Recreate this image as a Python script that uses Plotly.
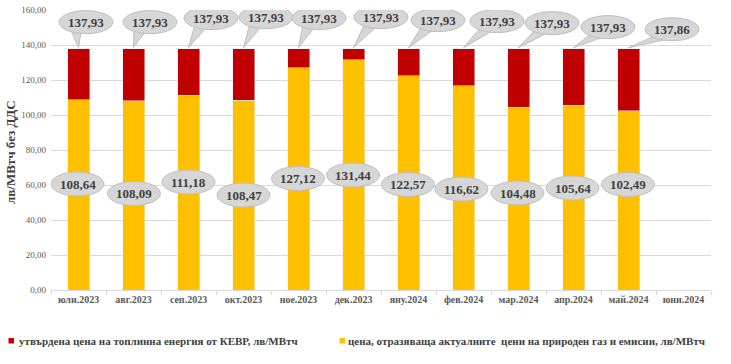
import plotly.graph_objects as go

months = ["юли.2023", "авг.2023", "сеп.2023", "окт.2023", "ное.2023", "дек.2023",
          "яну.2024", "фев.2024", "мар.2024", "апр.2024", "май.2024", "юни.2024"]
gas_price = [108.64, 108.09, 111.18, 108.47, 127.12, 131.44,
             122.57, 116.62, 104.48, 105.64, 102.49, None]
kevr_extra = [29.29, 29.84, 26.75, 29.46, 10.81, 6.49,
              15.36, 21.31, 33.45, 32.29, 35.37, None]
kevr_total = [137.93, 137.93, 137.93, 137.93, 137.93, 137.93,
              137.93, 137.93, 137.93, 137.93, 137.86, None]

name_kevr = "утвърдена цена на топлинна енергия от КЕВР, лв/МВтч"
name_gas = "цена, отразяваща актуалните  цени на природен газ и емисии, лв/МВтч"
y_title = "лв/МВтч без ДДС"

RED = "#C00000"
YEL = "#FFC000"
FONT = "Liberation Serif"
TXT = "#404040"

W, H = 731, 364
PL, PT, PR, PB = 51, 10, 711, 290          # plot area in page pixels
ML, MT, MR, MB = PL, PT, W - PR, H - PB


def px(x):
    return (x - PL) / (PR - PL)


def py(y):
    return (PB - y) / (PB - PT)


# callout pixel offsets (layout only)
top_off = [(7.5, 26.5), (16.5, 26.5), (22.5, 30.5), (22.5, 31.5), (20.5, 30.5), (27.5, 31.5),
           (29.5, 28.5), (33.5, 27.5), (33.5, 25.5), (34.5, 21.5), (43.5, 19.5)]
bot_off = [(-1, 106), (0.5, 96.5), (0, 108), (0, 95), (-0.5, 111.5), (-0.5, 115),
           (-0.5, 105.5), (-2, 101), (-1, 97), (-1, 102), (-0.5, 105.5)]

fig = go.Figure()
fig.add_bar(x=months, y=gas_price, marker_color=YEL, width=0.4, name=name_gas)
fig.add_bar(x=months, y=kevr_extra, marker_color=RED, width=0.4, name=name_kevr)

shapes = []
annots = []
EF = "#D6D6D6"
EL = "#BFBFBF"
for i, tot in enumerate(kevr_total):
    if tot is None:
        continue
    m = months[i]
    dx, up = top_off[i]
    shapes.append(dict(type="path", xref="x", yref="y", xsizemode="pixel", ysizemode="pixel",
                       xanchor=m, yanchor=tot,
                       path=f"M 0,1 L {dx-16:.1f},{up-6:.1f} L {dx-5:.1f},{up-10:.1f} Z",
                       fillcolor=EF, line=dict(color=EL, width=1), layer="above"))
    shapes.append(dict(type="circle", xref="x", yref="y", xsizemode="pixel", ysizemode="pixel",
                       xanchor=m, yanchor=tot, x0=dx-27, x1=dx+27, y0=up-11.5, y1=up+11.5,
                       fillcolor=EF, line=dict(color=EL, width=1), layer="above"))
    annots.append(dict(x=m, y=tot, xref="x", yref="y", xshift=dx, yshift=up,
                       text=f"{tot:.2f}".replace(".", ","), showarrow=False,
                       font=dict(family=FONT, size=13, color=TXT, weight="bold")))
for i, v in enumerate(gas_price):
    if v is None:
        continue
    m = months[i]
    dx, up = bot_off[i]
    shapes.append(dict(type="circle", xref="x", yref="y", xsizemode="pixel", ysizemode="pixel",
                       xanchor=m, yanchor=0, x0=dx-26.5, x1=dx+26.5, y0=up-12, y1=up+12,
                       fillcolor=EF, line=dict(color=EL, width=1), layer="above"))
    annots.append(dict(x=m, y=0, xref="x", yref="y", xshift=dx, yshift=up,
                       text=f"{v:.2f}".replace(".", ","), showarrow=False,
                       font=dict(family=FONT, size=13, color=TXT, weight="bold")))

# y-axis title
annots.append(dict(x=px(10), y=py(152), xref="paper", yref="paper", textangle=-90,
                   xanchor="center", yanchor="middle", showarrow=False, text=y_title,
                   font=dict(family=FONT, size=13, color=TXT, weight="bold")))

# legend (drawn manually to match layout)
LEG_Y = 341
for (sx, col, tx, name) in [(8.5, RED, 16.5, name_kevr), (339.5, YEL, 346, name_gas)]:
    shapes.append(dict(type="rect", xref="paper", yref="paper",
                       x0=px(sx), x1=px(sx + 5.5), y0=py(LEG_Y - 3), y1=py(LEG_Y + 2.5),
                       fillcolor=col, line=dict(width=0)))
    annots.append(dict(x=px(tx), y=py(LEG_Y), xref="paper", yref="paper",
                       xanchor="left", yanchor="middle", showarrow=False, text=name,
                       font=dict(family=FONT, size=11, color=TXT, weight="bold")))

fig.update_layout(
    barmode="stack",
    width=W, height=H,
    margin=dict(l=ML, r=MR, t=MT, b=MB, pad=0, autoexpand=False),
    plot_bgcolor="white", paper_bgcolor="white",
    separators=", ",
    showlegend=False,
    font=dict(family=FONT, color="#595959"),
    shapes=shapes, annotations=annots,
    xaxis=dict(type="category", tickfont=dict(family=FONT, size=10, color="#595959", weight="bold"),
               showline=True, linecolor="#D9D9D9", ticks="outside", tickson="boundaries",
               ticklen=4, tickcolor="#D9D9D9", showgrid=False, range=[-0.5, 11.5],
               automargin=False),
    yaxis=dict(range=[0, 160], dtick=20, tickformat=".2f",
               tickfont=dict(family=FONT, size=9, color="#595959"),
               showgrid=True, gridcolor="#D9D9D9", gridwidth=1, zeroline=False,
               automargin=False, ticklabelstandoff=4),
)

fig.write_html("out.html", config={"displayModeBar": False},
               post_script="document.body.style.margin='0';document.body.style.overflow='hidden';")
